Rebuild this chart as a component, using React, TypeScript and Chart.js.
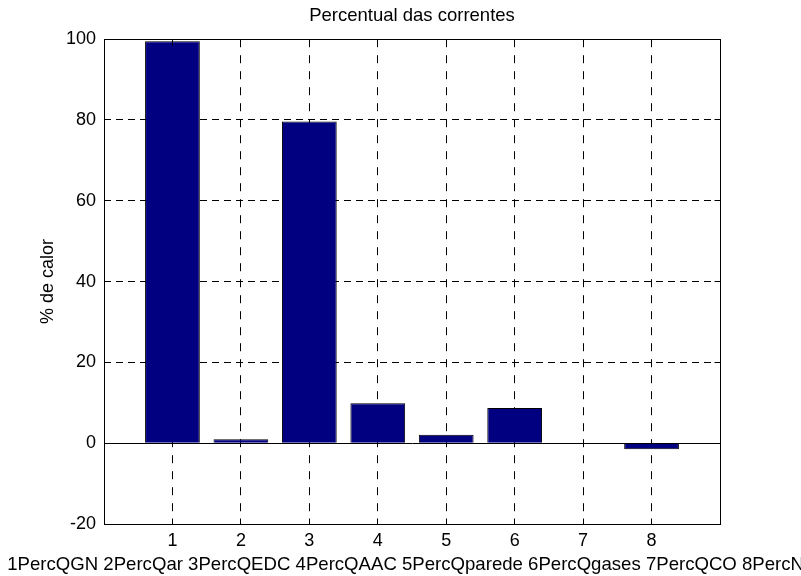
import React, { useEffect, useRef } from "react";
import { Chart, registerables } from "chart.js";

Chart.register(...registerables);

const positions = [1, 2, 3, 4, 5, 6, 7, 8];
const percent = [99.5, 1.0, 79.6, 9.9, 2.1, 8.7, 0, -1.5];
const streamNames = [
  "1PercQGN",
  "2PercQar",
  "3PercQEDC",
  "4PercQAAC",
  "5PercQparede",
  "6PercQgases",
  "7PercQCO",
  "8PercNOx",
];
const yTickValues = [-20, 0, 20, 40, 60, 80, 100];
const xRange = [0, 9];
const titleText = "Percentual das correntes";
const yTitleText = "% de calor";

const FONT = "'Liberation Sans', Arial, Helvetica, sans-serif";

function align(p: number) {
  return Math.round(p - 0.5) + 0.5;
}

const axesPlugin = {
  id: "matlabAxes",
  afterDatasetsDraw(chart: any) {
    const { ctx, chartArea } = chart;
    const xs = chart.scales.x;
    const ys = chart.scales.y;
    const L = align(chartArea.left);
    const R = align(chartArea.right);
    const T = align(chartArea.top);
    const B = align(chartArea.bottom);
    ctx.save();
    ctx.strokeStyle = "#000";
    ctx.lineWidth = 1;
    ctx.setLineDash([]);
    // baseline at zero
    const y0 = align(ys.getPixelForValue(0));
    ctx.beginPath();
    ctx.moveTo(L, y0);
    ctx.lineTo(R, y0);
    ctx.stroke();
    // box
    ctx.strokeRect(L, T, R - L, B - T);
    // inward ticks
    const tl = 6;
    ctx.beginPath();
    xs.ticks.forEach((t: any) => {
      const px = align(xs.getPixelForValue(t.value));
      ctx.moveTo(px, B);
      ctx.lineTo(px, B - tl);
      ctx.moveTo(px, T);
      ctx.lineTo(px, T + tl);
    });
    ys.ticks.forEach((t: any) => {
      const py = align(ys.getPixelForValue(t.value));
      ctx.moveTo(L, py);
      ctx.lineTo(L + tl, py);
      ctx.moveTo(R, py);
      ctx.lineTo(R - tl, py);
    });
    ctx.stroke();
    // x axis label (overflows the canvas like the original)
    ctx.fillStyle = "#000";
    ctx.font = `18.6px ${FONT}`;
    ctx.textAlign = "center";
    ctx.textBaseline = "alphabetic";
    ctx.fillText(streamNames.join(" "), (chartArea.left + chartArea.right) / 2 + 5.5, 570);
    ctx.restore();
  },
};

export default function App() {
  const ref = useRef<HTMLCanvasElement>(null);

  useEffect(() => {
    document.body.style.margin = "0";
    const canvas = ref.current;
    if (!canvas) return;
    const chart = new Chart(canvas, {
      type: "bar",
      data: {
        datasets: [
          {
            data: positions.map((p, i) => ({ x: p, y: percent[i] })),
            backgroundColor: "#000080",
            borderColor: "#000000",
            borderWidth: 1,
            barPercentage: 0.8,
            categoryPercentage: 1,
          },
        ],
      },
      options: {
        responsive: false,
        animation: false,
        devicePixelRatio: 1,
        layout: { padding: { left: 0, right: 81, top: 0, bottom: 0 } },
        plugins: {
          legend: { display: false },
          tooltip: { enabled: false },
          title: {
            display: true,
            text: titleText,
            fullSize: false,
            color: "#000",
            font: { family: FONT, size: 18.5, weight: "normal" },
            padding: { top: 5, bottom: 12 },
          },
        },
        scales: {
          x: {
            type: "linear",
            offset: false,
            min: xRange[0],
            max: xRange[1],
            afterBuildTicks: (scale: any) => {
              scale.ticks = positions.map((v) => ({ value: v }));
            },
            afterFit: (scale: any) => {
              scale.height = 52;
            },
            grid: { color: "#000", lineWidth: 1, drawTicks: false, offset: false },
            border: { display: false, dash: [8, 8] },
            ticks: {
              color: "#000",
              font: { family: FONT, size: 18 },
              padding: 6,
              maxRotation: 0,
              autoSkip: false,
            },
          },
          y: {
            type: "linear",
            min: yTickValues[0],
            max: yTickValues[yTickValues.length - 1],
            afterBuildTicks: (scale: any) => {
              scale.ticks = yTickValues.map((v) => ({ value: v }));
            },
            afterFit: (scale: any) => {
              scale.width = 104;
            },
            grid: { color: "#000", lineWidth: 1, drawTicks: false },
            border: { display: false, dash: [7, 5] },
            ticks: {
              color: "#000",
              font: { family: FONT, size: 18 },
              padding: 8,
            },
            title: {
              display: true,
              text: yTitleText,
              color: "#000",
              font: { family: FONT, size: 18 },
              padding: { top: 37, bottom: 0 },
            },
          },
        },
      },
      plugins: [axesPlugin],
    } as any);
    return () => chart.destroy();
  }, []);

  return (
    <div style={{ width: 801, height: 576, background: "#fff" }}>
      <canvas ref={ref} width={801} height={576} style={{ display: "block" }} />
    </div>
  );
}
